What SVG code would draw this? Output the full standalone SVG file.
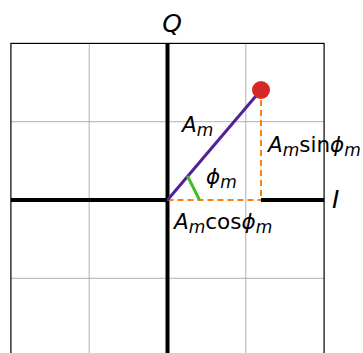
<svg xmlns="http://www.w3.org/2000/svg" width="363" height="353" viewBox="0 0 363 353">
<style>
.grid{stroke:#b0b0b0;stroke-width:1;fill:none}
.axis{stroke:#000;stroke-width:4;fill:none}
.frame{stroke:#000;stroke-width:1.2;fill:none}
.dash{stroke:#ff7f0e;stroke-width:2;stroke-dasharray:6,4;fill:none}
.t{font-family:"DejaVu Sans",sans-serif;font-size:21.5px;fill:#000}
.big{font-size:25px}
.i{font-style:italic}
.s{font-style:italic;font-size:17px}
</style>
<rect width="363" height="353" fill="#fff"/>
<g id="grid">
<line class="grid" x1="89.2" y1="43.4" x2="89.2" y2="353"/>
<line class="grid" x1="245.8" y1="43.4" x2="245.8" y2="353"/>
<line class="grid" x1="10.9" y1="121.7" x2="324.1" y2="121.7"/>
<line class="grid" x1="10.9" y1="278.3" x2="324.1" y2="278.3"/>
</g>
<g id="axes">
<line class="axis" x1="167.5" y1="43.4" x2="167.5" y2="353"/>
<line class="axis" x1="10.9" y1="200" x2="167.5" y2="200"/>
<line class="axis" x1="261" y1="200" x2="324.1" y2="200"/>
</g>
<rect id="frame" class="frame" x="10.9" y="43.4" width="313.2" height="320"/>
<g id="connectors">
<line class="dash" x1="167.5" y1="200" x2="261" y2="200"/>
<line class="dash" x1="261" y1="90" x2="261" y2="200"/>
<line stroke="#4f229a" stroke-width="3" x1="167.5" y1="200" x2="261" y2="90"/>
<line x1="199.5" y1="200" x2="187.5" y2="176" stroke="#3fbf1f" stroke-width="3"/>
</g>
<g id="point"><circle cx="261" cy="90" r="9" fill="#d62728"/></g>
<g id="labels">
<text class="t big i" x="172" y="32" text-anchor="middle">Q</text>
<text class="t big i" x="332" y="208">I</text>
<text class="t" x="182" y="132"><tspan class="i">A</tspan><tspan class="s" dy="4">m</tspan></text>
<text class="t" x="206" y="184"><tspan class="i">ϕ</tspan><tspan class="s" dy="4">m</tspan></text>
<text class="t" x="268" y="152"><tspan class="i">A</tspan><tspan class="s" dy="4">m</tspan><tspan dy="-4">sin</tspan><tspan class="i">ϕ</tspan><tspan class="s" dy="4">m</tspan></text>
<text class="t" x="174" y="229"><tspan class="i">A</tspan><tspan class="s" dy="4">m</tspan><tspan dy="-4">cos</tspan><tspan class="i">ϕ</tspan><tspan class="s" dy="4">m</tspan></text>
</g>
</svg>
